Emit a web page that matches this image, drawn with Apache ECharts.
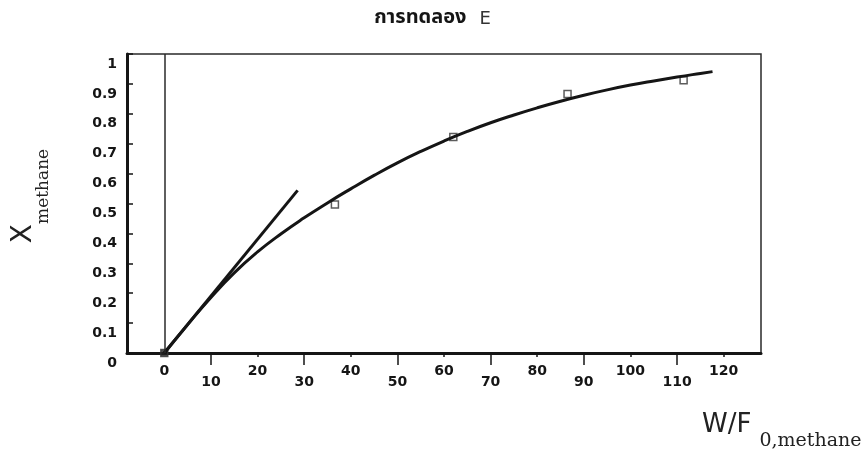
<!DOCTYPE html>
<html>
<head>
<meta charset="utf-8">
<script src="https://cdn.jsdelivr.net/npm/echarts@6/dist/echarts.min.js"></script>
<style>html,body{margin:0;padding:0;background:#fff}#c{width:865px;height:455px}</style>
</head>
<body>
<div id="c"></div>
<script>
// ---- data ----
const titleThai = 'การทดลอง';
const titleLetter = 'E';
// fitted curve (W/F0 , X)
const curveW = [0, 5, 10, 15, 20, 25, 30, 35, 40, 45, 50, 55, 60, 65, 70, 75, 80, 85, 90, 95, 100, 105, 110, 115, 117.6];
const curveX = [0, 0.095, 0.186, 0.268, 0.338, 0.398, 0.452, 0.502, 0.549, 0.594, 0.636, 0.674, 0.709, 0.741, 0.770, 0.796, 0.820, 0.842, 0.862, 0.880, 0.896, 0.910, 0.923, 0.935, 0.941];
// initial-slope (tangent) line
const tangentW = [0, 28.6];
const tangentX = [0, 0.544];
// experimental points
const expW = [0, 36.6, 62, 86.5, 111.4];
const expX = [0, 0.497, 0.722, 0.866, 0.912];
// axis ticks / labels
const xLabelValues = [0, 10, 20, 30, 40, 50, 60, 70, 80, 90, 100, 110, 120];
const xMajorTicks = [10, 30, 50, 70, 90, 110];
const xMinorTicks = [20, 40, 60, 80, 100, 120];
const yTicks = [0, 0.1, 0.2, 0.3, 0.4, 0.5, 0.6, 0.7, 0.8, 0.9, 1];

const pair = (a, b) => a.map((v, i) => [v, b[i]]);
const ink = '#151515';
const labelFont = 'DejaVu Sans';

const chart = echarts.init(document.getElementById('c'), null, {renderer: 'canvas'});
chart.setOption({
  animation: false,
  backgroundColor: '#fff',
  title: {
    text: '{t|' + titleThai + '} {e|' + titleLetter + '}',
    left: 'center',
    top: 4,
    padding: [5, 5, 5, 31],
    textStyle: {
      rich: {
        t: {fontSize: 20, fontWeight: 'bold', color: ink, fontFamily: 'Noto Sans Thai, Loma, Garuda, DejaVu Sans, sans-serif'},
        e: {fontSize: 18, fontWeight: 'normal', color: '#333', fontFamily: 'DejaVu Sans', padding: [0, 0, 0, 8]}
      }
    }
  },
  grid: {
    left: 127, right: 104, top: 54, bottom: 102,
    show: true, borderColor: '#2a2a2a', borderWidth: 1.5
  },
  xAxis: [{
    type: 'value', min: -8, max: 128,
    splitLine: {show: false},
    axisLine: {onZero: false, lineStyle: {color: ink, width: 3}},
    axisTick: {show: true, customValues: xMajorTicks, length: 12, lineStyle: {color: ink, width: 1.5}},
    axisLabel: {
      customValues: xLabelValues, margin: 11, color: ink,
      formatter: v => ((v / 10) % 2 === 0 ? '{e|' + v + '}' : '{o|' + v + '}'),
      rich: {
        e: {fontSize: 14, fontWeight: 'bold', fontFamily: labelFont, color: ink},
        o: {fontSize: 14, fontWeight: 'bold', fontFamily: labelFont, color: ink, padding: [11, 0, 0, 0]}
      }
    }
  }, {
    type: 'value', min: -8, max: 128, position: 'bottom',
    splitLine: {show: false},
    axisLine: {show: false, onZero: false},
    axisTick: {show: true, customValues: xMinorTicks, length: 4, lineStyle: {color: ink, width: 1.5}},
    axisLabel: {show: false}
  }],
  yAxis: {
    type: 'value', min: 0, max: 1,
    splitLine: {show: false},
    axisLine: {show: true, onZero: false, lineStyle: {color: ink, width: 3}},
    axisTick: {show: true, inside: true, length: 6, customValues: yTicks, lineStyle: {color: ink, width: 1.5}},
    axisLabel: {
      customValues: yTicks, margin: 10, color: ink,
      formatter: v => '{a|' + v + '}',
      rich: {
        a: {fontSize: 14, fontWeight: 'bold', fontFamily: labelFont, color: ink, padding: [20, 0, 0, 0]}
      }
    }
  },
  graphic: [{
    type: 'text', x: 31, y: 196, rotation: Math.PI / 2,
    style: {
      text: '{x|X}{m|methane}',
      align: 'center', verticalAlign: 'middle',
      textAlign: 'center', textVerticalAlign: 'middle',
      rich: {
        x: {fontSize: 28, lineHeight: 28, verticalAlign: 'top', fontFamily: 'DejaVu Sans', fill: '#222', color: '#222'},
        m: {fontSize: 17, verticalAlign: 'bottom', padding: [26, 0, 0, 0], fontFamily: 'DejaVu Serif', fill: '#222', color: '#222'}
      }
    }
  }, {
    type: 'text', x: 702, y: 412,
    style: {
      text: '{a|W/F}{b|0,methane}',
      align: 'left', verticalAlign: 'top',
      textAlign: 'left', textVerticalAlign: 'top',
      rich: {
        a: {fontSize: 26, lineHeight: 26, verticalAlign: 'top', fontFamily: 'DejaVu Sans', fill: '#222', color: '#222'},
        b: {fontSize: 19, verticalAlign: 'bottom', padding: [20, 0, 0, 8], fontFamily: 'DejaVu Serif', fill: '#222', color: '#222'}
      }
    }
  }],
  series: [{
    name: 'experiment', type: 'scatter',
    data: pair(expW, expX).map((p, i) => i === 0 ? {value: p, itemStyle: {color: '#222'}} : p),
    symbol: 'rect', symbolSize: 7,
    itemStyle: {color: '#fff', borderColor: '#333', borderWidth: 1.5},
    z: 2
  }, {
    name: 'zero', type: 'line', data: [],
    markLine: {
      silent: true, symbol: 'none', label: {show: false},
      lineStyle: {color: '#2a2a2a', width: 1.5, type: 'solid'},
      data: [{xAxis: 0}]
    }
  }, {
    name: 'fit', type: 'line', data: pair(curveW, curveX),
    smooth: true, showSymbol: false, symbol: 'none',
    lineStyle: {color: ink, width: 3}, z: 3
  }, {
    name: 'tangent', type: 'line', data: pair(tangentW, tangentX),
    showSymbol: false, symbol: 'none',
    lineStyle: {color: ink, width: 3}, z: 3
  }]
});
</script>
</body>
</html>
